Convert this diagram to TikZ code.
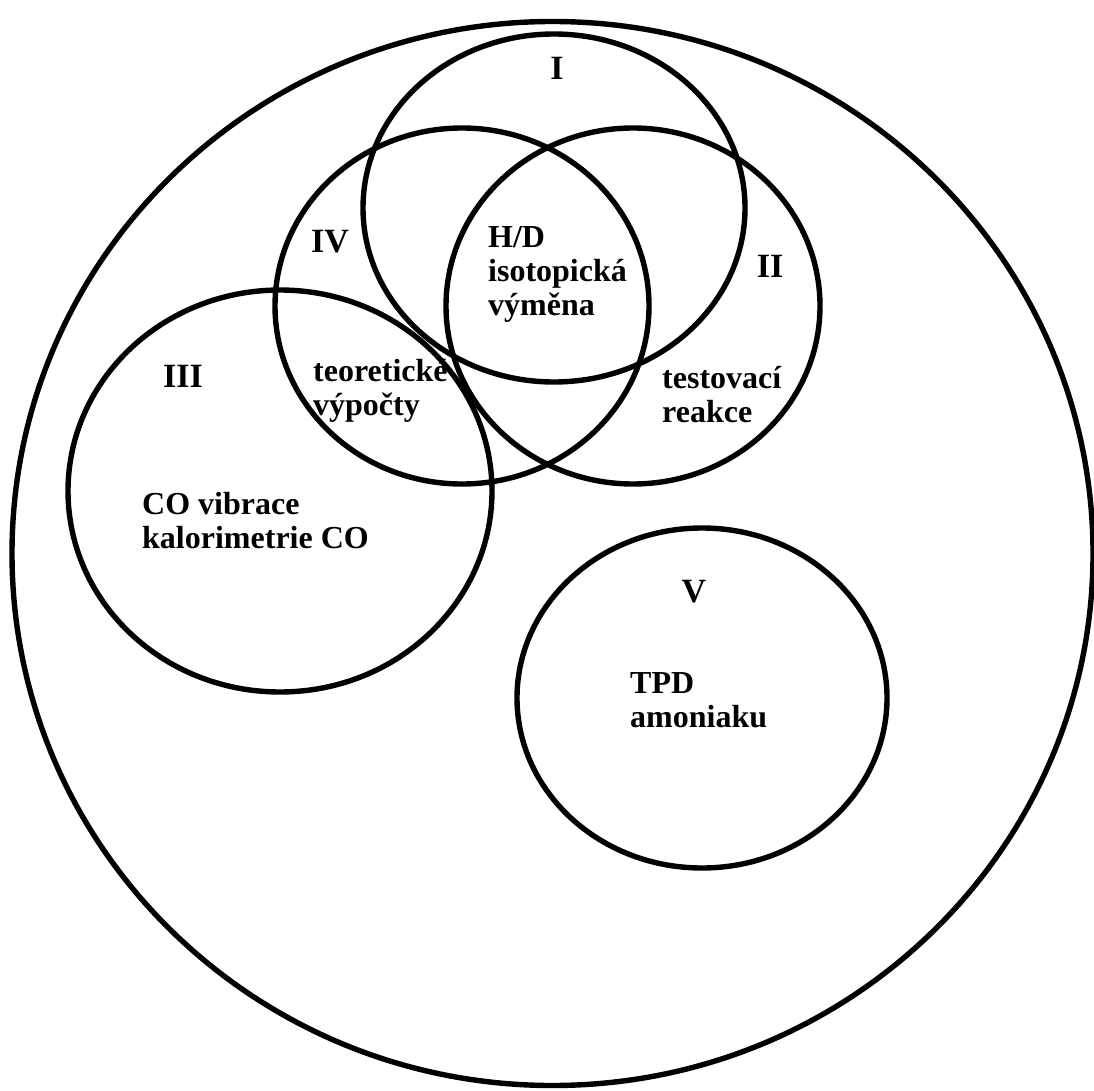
\documentclass[tikz,border=0pt]{standalone}
\usepackage{fontspec}
\setmainfont{Liberation Serif}
\begin{document}
\begin{tikzpicture}[x=1pt,y=-1pt,
  ring/.style={line width=5.4pt},
  lbl/.style={font=\fontsize{32}{34}\selectfont\bfseries, align=left, anchor=base west, inner sep=0pt},
  num/.style={font=\fontsize{34}{36}\selectfont\bfseries, anchor=base, inner sep=0pt}]
\useasboundingbox[fill=white] (0,0) rectangle (1094,1091);
% sets
\draw[ring] (552.5,553.5) ellipse [x radius=540.5, y radius=532];
\draw[ring] (554,208) ellipse [x radius=191, y radius=174];
\draw[ring] (633,306) ellipse [x radius=187, y radius=178];
\draw[ring] (462,306) ellipse [x radius=187, y radius=178];
\draw[ring] (280,491) ellipse [x radius=212, y radius=201];
\draw[ring] (702,698) ellipse [x radius=185, y radius=170];
% numerals
\node[num] (nI) at (557,80) {I};
\node[num] (nII) at (770,277) {II};
\node[num] (nIII) at (183,387) {III};
\node[num] (nIV) at (330,253) {IV};
\node[num] (nV) at (694,602) {V};
% labels (anchor = baseline of the last line)
\node[lbl] (hd) at (488,315) {H/D\\isotopická\\výměna};
\node[lbl] (teo) at (313,415) {teoretické\\výpočty};
\node[lbl] (test) at (662,422) {testovací\\reakce};
\node[lbl] (co) at (142,548) {CO vibrace\\kalorimetrie CO};
\node[lbl] (tpd) at (630,727) {TPD\\amoniaku};
\end{tikzpicture}
\end{document}
